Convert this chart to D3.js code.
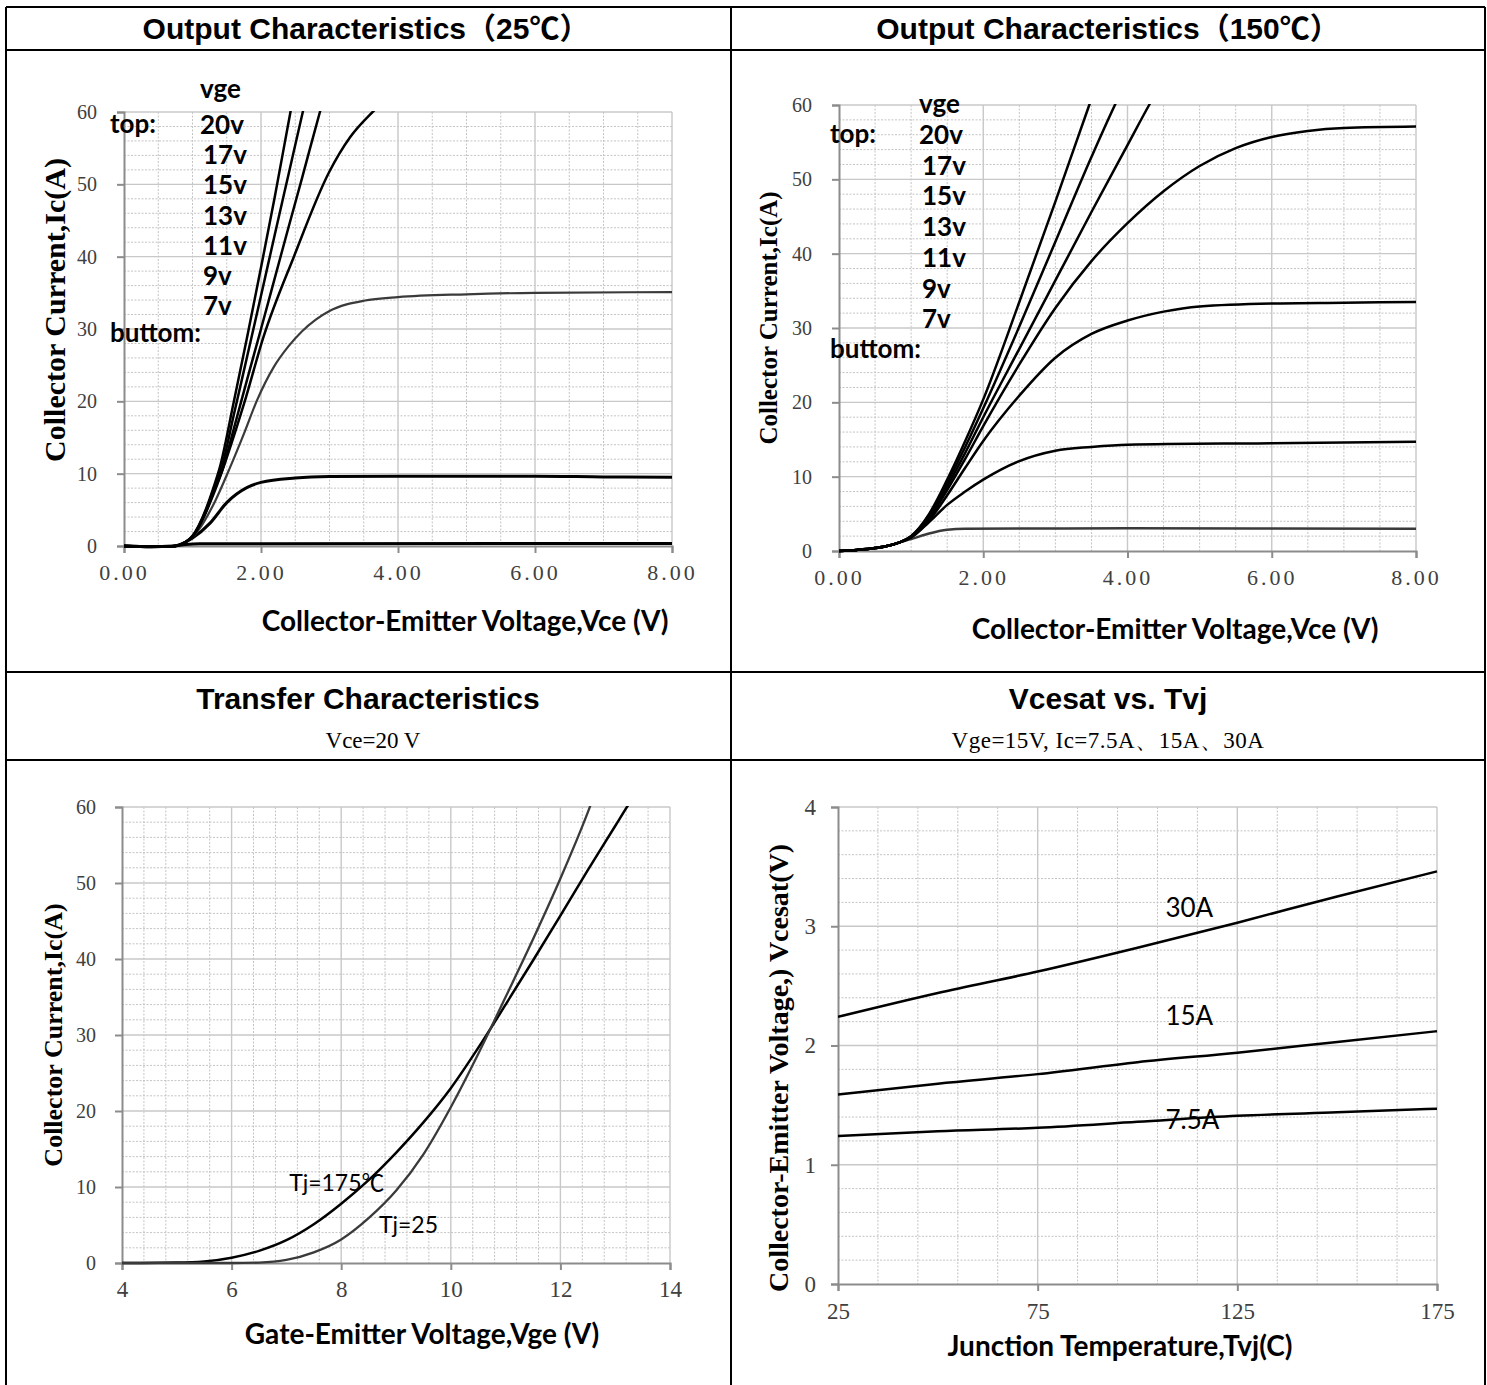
<!DOCTYPE html>
<html>
<head>
<meta charset="utf-8">
<script src="https://cdn.jsdelivr.net/npm/d3@7"></script>
<style>
body { margin: 0; background: #fff; }
svg { display: block; }
</style>
</head>
<body>
<svg id="chart" width="1487" height="1385"></svg>
<script>
// ---- Output characteristics, Tj = 25C (Vce, Ic) ----
var base25 = [[0, 0], [0.4, -0.1], [0.7, -0.05], [0.9, 0.55]];
var out25_20v = base25.concat([[1.0, 1.4], [1.1, 3.0], [1.2, 5.2], [1.3, 7.9], [1.4, 10.9], [1.6, 19.8], [1.8, 29.0], [2.0, 38.5], [2.2, 48.2], [2.43, 60], [2.5, 63.5]]);
var out25_17v = base25.concat([[1.0, 1.35], [1.1, 2.9], [1.2, 5.0], [1.3, 7.6], [1.43, 11.0], [1.6, 18.0], [1.8, 26.3], [2.0, 34.6], [2.2, 43.0], [2.4, 51.3], [2.61, 60], [2.7, 63.7]]);
var out25_15v = base25.concat([[1.0, 1.3], [1.1, 2.8], [1.2, 4.8], [1.3, 7.3], [1.45, 10.9], [1.6, 16.1], [1.8, 23.1], [2.0, 30.0], [2.2, 37.0], [2.4, 44.0], [2.6, 50.9], [2.86, 60], [2.95, 63]]);
var out25_13v = base25.concat([[1.0, 1.25], [1.16, 3.9], [1.3, 7.0], [1.43, 10.3], [1.75, 19.6], [2.04, 29.0], [2.48, 40.0], [2.99, 51.6], [3.3, 56.5], [3.65, 60.2], [3.9, 62.5]]);
var out25_11v = base25.concat([[1.0, 1.2], [1.11, 2.5], [1.33, 6.2], [1.55, 10.9], [1.75, 15.5], [1.94, 20.1], [2.19, 24.8], [2.4, 27.6], [2.6, 29.7], [2.8, 31.3], [3.0, 32.5], [3.25, 33.4], [3.5, 33.9], [4.0, 34.4], [5.0, 34.8], [6.0, 35.0], [8.0, 35.1]]);
var out25_9v = base25.concat([[1.0, 1.1], [1.26, 3.2], [1.5, 6.0], [1.8, 8.1], [2.0, 8.8], [2.5, 9.4], [3.0, 9.6], [4.0, 9.65], [6.0, 9.65], [7.0, 9.55], [8.0, 9.5]]);
var out25_7v = [[0, 0], [0.4, -0.1], [0.7, -0.05], [0.9, 0.2], [1.1, 0.3], [8.0, 0.35]];

// ---- Output characteristics, Tj = 150C ----
var base150 = [[0, 0], [0.25, 0.15], [0.5, 0.4], [0.7, 0.75], [0.85, 1.2]];
var out150_20v = base150.concat([[1.0, 2.0], [1.25, 5.0], [1.5, 9.6], [1.75, 14.8], [2.0, 20.4], [2.5, 33.5], [3.0, 47.0], [3.47, 60], [3.6, 63.5]]);
var out150_17v = base150.concat([[1.0, 2.0], [1.25, 4.8], [1.5, 9.2], [1.75, 14.0], [2.0, 19.2], [2.5, 30.2], [3.0, 41.6], [3.5, 53.0], [3.84, 60.3], [3.95, 62.5]]);
var out150_15v = base150.concat([[1.0, 1.95], [1.25, 4.6], [1.5, 8.7], [1.75, 13.2], [2.0, 18.0], [2.5, 27.2], [3.0, 36.4], [3.5, 45.6], [4.0, 54.6], [4.3, 60], [4.4, 61.7]]);
var out150_13v = base150.concat([[1.0, 1.9], [1.25, 4.4], [1.5, 8.2], [1.75, 12.4], [2.0, 16.8], [2.5, 25.1], [3.0, 32.7], [3.5, 39.0], [4.0, 44.1], [4.5, 48.4], [5.0, 51.8], [5.5, 54.2], [6.0, 55.7], [6.5, 56.5], [7.0, 56.9], [8.0, 57.1]]);
var out150_11v = base150.concat([[1.0, 1.85], [1.25, 4.1], [1.5, 7.5], [1.75, 11.2], [2.0, 14.8], [2.5, 20.9], [3.0, 26.0], [3.5, 29.2], [4.0, 31.0], [4.5, 32.2], [5.0, 32.9], [6.0, 33.3], [7.0, 33.4], [8.0, 33.5]]);
var out150_9v = base150.concat([[1.0, 1.8], [1.25, 3.9], [1.5, 6.2], [1.75, 8.0], [2.0, 9.6], [2.5, 12.1], [3.0, 13.5], [3.5, 14.0], [4.0, 14.3], [6.0, 14.5], [8.0, 14.7]]);
var out150_7v = base150.concat([[1.0, 1.6], [1.25, 2.35], [1.5, 2.85], [1.75, 3.0], [4.0, 3.05], [8.0, 3.0]]);

var vgeLabels = ["20v", "17v", "15v", "13v", "11v", "9v", "7v"];

// ---- Transfer characteristics (Vge, Ic), Vce = 20V ----
var transfer175 = [[4, 0], [5, 0.05], [5.5, 0.2], [6, 0.7], [6.5, 1.6], [7, 3.0], [7.5, 5.1], [8, 7.8], [8.5, 10.9], [9, 14.5], [9.5, 18.5], [10, 23.0], [10.5, 28.3], [11, 34.0], [11.5, 39.8], [12, 45.7], [12.5, 51.7], [13, 57.5], [13.25, 60.4], [13.4, 62]];
var transfer25 = [[4, 0], [6, 0], [6.5, 0.05], [7, 0.4], [7.5, 1.4], [8, 3.1], [8.5, 5.9], [9, 9.5], [9.5, 14.3], [10, 20.5], [10.5, 27.5], [11, 35.0], [11.5, 42.6], [12, 50.6], [12.5, 59.3], [12.6, 61.2]];

// ---- Vcesat vs Tvj ----
var tvj = [25, 50, 75, 100, 125, 150, 175];
var vcesat30 = [2.24, 2.44, 2.62, 2.82, 3.03, 3.25, 3.46];
var vcesat15 = [1.59, 1.68, 1.76, 1.86, 1.94, 2.03, 2.12];
var vcesat7p5 = [1.24, 1.28, 1.31, 1.36, 1.41, 1.44, 1.47];

var svg = d3.select("#chart");
svg.append("rect").attr("width", 1487).attr("height", 1385).attr("fill", "#fff");

var SERIF = "'Liberation Serif', 'Times New Roman', serif";
var SANS = "'Liberation Sans', Arial, 'Noto Sans CJK SC', sans-serif";
var CAL = "Lato, 'Open Sans', 'Noto Sans CJK SC', sans-serif";

function steps(min, max, step){
	var n = Math.round((max - min) / step);
	return d3.range(n + 1).map(function(i){ return min + i * step; });
}

function drawPanel(p){
	var x = d3.scaleLinear().domain(p.xDomain).range([p.left, p.right]);
	var y = d3.scaleLinear().domain(p.yDomain).range([p.bottom, p.top]);
	var g = svg.append("g");

	var isMajor = function(v, min, major){
		var r = (v - min) / major;
		return Math.abs(r - Math.round(r)) < 1e-6;
	};

	//Minor grid
	var xs = steps(p.xDomain[0], p.xDomain[1], p.xMinor),
		ys = steps(p.yDomain[0], p.yDomain[1], p.yMinor);

	g.selectAll(".vminor").data(xs.filter(function(v){ return !isMajor(v, p.xDomain[0], p.xMajor); }))
		.enter().append("line")
		.attr("x1", function(d){ return x(d); }).attr("x2", function(d){ return x(d); })
		.attr("y1", p.top).attr("y2", p.bottom)
		.attr("stroke", "#c4c4c4").attr("stroke-width", 1).attr("stroke-dasharray", "2,1.5");

	g.selectAll(".hminor").data(ys.filter(function(v){ return !isMajor(v, p.yDomain[0], p.yMajor); }))
		.enter().append("line")
		.attr("x1", p.left).attr("x2", p.right)
		.attr("y1", function(d){ return y(d); }).attr("y2", function(d){ return y(d); })
		.attr("stroke", "#c4c4c4").attr("stroke-width", 1).attr("stroke-dasharray", "2,1.5");

	//Major grid
	var xm = steps(p.xDomain[0], p.xDomain[1], p.xMajor),
		ym = steps(p.yDomain[0], p.yDomain[1], p.yMajor);

	g.selectAll(".vmajor").data(xm.slice(1))
		.enter().append("line")
		.attr("x1", function(d){ return x(d); }).attr("x2", function(d){ return x(d); })
		.attr("y1", p.top).attr("y2", p.bottom)
		.attr("stroke", "#c8c8c8").attr("stroke-width", 1.4);

	g.selectAll(".hmajor").data(ym.slice(1))
		.enter().append("line")
		.attr("x1", p.left).attr("x2", p.right)
		.attr("y1", function(d){ return y(d); }).attr("y2", function(d){ return y(d); })
		.attr("stroke", "#c8c8c8").attr("stroke-width", 1.4);

	//Axes
	var yAxis = g.append("g")
		.attr("transform", "translate(" + p.left + ",0)")
		.call(d3.axisLeft(y).tickValues(ym).tickSize(7).tickPadding(p.yPad).tickFormat(function(d){ return d; }));
	var xAxis = g.append("g")
		.attr("transform", "translate(0," + p.bottom + ")")
		.call(d3.axisBottom(x).tickValues(xm).tickSize(7).tickPadding(p.xPad).tickFormat(p.xFormat));

	[yAxis, xAxis].forEach(function(a){
		a.select(".domain").attr("stroke", "#8c8c8c").attr("stroke-width", 2);
		a.selectAll(".tick line").attr("stroke", "#8c8c8c").attr("stroke-width", 2);
		a.selectAll(".tick text").attr("fill", "#404040").style("font-family", SERIF);
	});
	yAxis.selectAll(".tick text").style("font-size", p.yFont + "px");
	xAxis.selectAll(".tick text").style("font-size", p.xFont + "px").style("letter-spacing", p.xSpacing + "px");

	//Curves
	var clipId = "clip" + p.id;
	svg.append("clipPath").attr("id", clipId)
		.append("rect")
		.attr("x", p.left).attr("y", p.top - 1)
		.attr("width", p.right - p.left + 2).attr("height", p.bottom - p.top + 4);

	var line = d3.line()
		.x(function(d){ return x(d[0]); })
		.y(function(d){ return y(d[1]); })
		.curve(d3.curveMonotoneX);

	g.append("g").attr("clip-path", "url(#" + clipId + ")")
		.selectAll("path").data(p.series)
		.enter().append("path")
		.attr("d", function(s){ return line(s.pts); })
		.attr("fill", "none")
		.attr("stroke", function(s){ return s.color; })
		.attr("stroke-width", function(s){ return s.width; })
		.attr("stroke-linejoin", "round");

	//In-plot labels
	(p.labels || []).forEach(function(l){
		g.append("text")
			.attr("x", x(l.at[0])).attr("y", y(l.at[1]))
			.attr("font-family", CAL).attr("font-size", l.size)
			.attr("fill", "#000")
			.text(l.text);
	});

	//Axis titles
	g.append("text")
		.attr("transform", "translate(" + p.yTitle[0] + "," + p.yTitle[1] + ") rotate(-90)")
		.attr("text-anchor", "middle")
		.attr("font-family", SERIF).attr("font-weight", "bold").attr("font-size", p.yTitleSize)
		.text(p.yLabel);

	g.append("text")
		.attr("x", p.xTitle[0]).attr("y", p.xTitle[1])
		.attr("text-anchor", "middle")
		.attr("font-family", CAL).attr("font-weight", "bold").attr("font-size", 28)
		.text(p.xLabel);

	return {x: x, y: y, g: g};
}

function drawVgeLegend(o){
	var t = svg.append("g")
		.attr("font-family", CAL).attr("font-weight", "bold").attr("font-size", 26).attr("fill", "#000");
	t.append("text").attr("x", o.col).attr("y", o.vgeY).text("vge");
	t.append("text").attr("x", o.left).attr("y", o.startY).text("top:");
	vgeLabels.forEach(function(lbl, i){
		t.append("text")
			.attr("x", o.col + (i === 0 ? 0 : 3))
			.attr("y", o.startY + 1 + i * o.step)
			.text(lbl);
	});
	t.append("text").attr("x", o.left).attr("y", o.bottomY).text("buttom:");
}

var black = "#000", gray = "#3a3a3a";

drawPanel({
	id: 1, left: 124, right: 672, top: 112, bottom: 546,
	xDomain: [0, 8], yDomain: [0, 60], xMajor: 2, xMinor: 0.5, yMajor: 10, yMinor: 2,
	xFormat: d3.format(".2f"), xFont: 22, xSpacing: 3, yFont: 20, yPad: 20, xPad: 11,
	yLabel: "Collector Current,Ic(A)", yTitle: [65, 310], yTitleSize: 30,
	xLabel: "Collector-Emitter Voltage,Vce (V)", xTitle: [465, 631],
	series: [
		{pts: out25_7v, color: black, width: 3},
		{pts: out25_9v, color: black, width: 3},
		{pts: out25_11v, color: gray, width: 2.2},
		{pts: out25_13v, color: black, width: 2.5},
		{pts: out25_15v, color: black, width: 2.5},
		{pts: out25_17v, color: black, width: 2.5},
		{pts: out25_20v, color: black, width: 2.5}
	]
});
drawVgeLegend({col: 200, left: 110, vgeY: 98, startY: 133, step: 30.2, bottomY: 342});

drawPanel({
	id: 2, left: 839, right: 1416, top: 105, bottom: 551,
	xDomain: [0, 8], yDomain: [0, 60], xMajor: 2, xMinor: 0.5, yMajor: 10, yMinor: 2,
	xFormat: d3.format(".2f"), xFont: 22, xSpacing: 3, yFont: 20, yPad: 20, xPad: 11,
	yLabel: "Collector Current,Ic(A)", yTitle: [777, 318], yTitleSize: 25,
	xLabel: "Collector-Emitter Voltage,Vce (V)", xTitle: [1175, 639],
	series: [
		{pts: out150_7v, color: gray, width: 2.5},
		{pts: out150_9v, color: black, width: 2.5},
		{pts: out150_11v, color: black, width: 2.5},
		{pts: out150_13v, color: black, width: 2.5},
		{pts: out150_15v, color: black, width: 2.5},
		{pts: out150_17v, color: black, width: 2.5},
		{pts: out150_20v, color: black, width: 2.5}
	]
});
drawVgeLegend({col: 919, left: 830, vgeY: 113, startY: 143, step: 30.7, bottomY: 358});

drawPanel({
	id: 3, left: 122, right: 670, top: 807, bottom: 1263,
	xDomain: [4, 14], yDomain: [0, 60], xMajor: 2, xMinor: 0.4, yMajor: 10, yMinor: 2,
	xFormat: function(d){ return d; }, xFont: 23, xSpacing: 0, yFont: 20, yPad: 19, xPad: 11,
	yLabel: "Collector Current,Ic(A)", yTitle: [62, 1035], yTitleSize: 26,
	xLabel: "Gate-Emitter Voltage,Vge (V)", xTitle: [422, 1344],
	series: [
		{pts: transfer175, color: black, width: 2.5},
		{pts: transfer25, color: gray, width: 2.3}
	],
	labels: [
		{text: "Tj=175℃", at: [7.05, 9.5], size: 23},
		{text: "Tj=25", at: [8.69, 3.95], size: 23}
	]
});

drawPanel({
	id: 4, left: 838, right: 1437, top: 807, bottom: 1284,
	xDomain: [25, 175], yDomain: [0, 4], xMajor: 50, xMinor: 10, yMajor: 1, yMinor: 0.2,
	xFormat: function(d){ return d; }, xFont: 23, xSpacing: 0, yFont: 23, yPad: 15, xPad: 12,
	yLabel: "Collector-Emitter Voltage,) Vcesat(V)", yTitle: [788, 1068], yTitleSize: 28,
	xLabel: "Junction Temperature,Tvj(C)", xTitle: [1120, 1356],
	series: [
		{pts: d3.zip(tvj, vcesat30), color: black, width: 2.5},
		{pts: d3.zip(tvj, vcesat15), color: black, width: 2.5},
		{pts: d3.zip(tvj, vcesat7p5), color: black, width: 2.5}
	],
	labels: [
		{text: "30A", at: [107, 3.08], size: 26},
		{text: "15A", at: [107, 2.17], size: 26},
		{text: "7.5A", at: [107, 1.3], size: 26}
	]
});

//Table frame
var frame = svg.append("g").attr("stroke", "#000").attr("stroke-width", 2);
[[6, 7, 1485, 7], [6, 50, 1485, 50], [6, 672, 1485, 672], [6, 760, 1485, 760],
 [6, 7, 6, 1385], [731, 7, 731, 1385], [1485, 7, 1485, 1385]].forEach(function(l){
	frame.append("line").attr("x1", l[0]).attr("y1", l[1]).attr("x2", l[2]).attr("y2", l[3]);
});

//Cell titles
var titles = svg.append("g").attr("text-anchor", "middle").attr("fill", "#000");
titles.append("text").attr("x", 366).attr("y", 39)
	.attr("font-family", SANS).attr("font-weight", "bold").attr("font-size", 30)
	.text("Output Characteristics（25℃）");
titles.append("text").attr("x", 1108).attr("y", 39)
	.attr("font-family", SANS).attr("font-weight", "bold").attr("font-size", 30)
	.text("Output Characteristics（150℃）");
titles.append("text").attr("x", 368).attr("y", 709)
	.attr("font-family", SANS).attr("font-weight", "bold").attr("font-size", 30)
	.text("Transfer Characteristics");
titles.append("text").attr("x", 1108).attr("y", 709)
	.attr("font-family", SANS).attr("font-weight", "bold").attr("font-size", 30)
	.text("Vcesat vs. Tvj");
titles.append("text").attr("x", 373).attr("y", 748)
	.attr("font-family", SERIF).attr("font-size", 23)
	.text("Vce=20 V");
titles.append("text").attr("x", 1108).attr("y", 748)
	.attr("font-family", SERIF).attr("font-size", 23).style("letter-spacing", "0.5px")
	.text("Vge=15V, Ic=7.5A、15A、30A");
</script>
</body>
</html>
